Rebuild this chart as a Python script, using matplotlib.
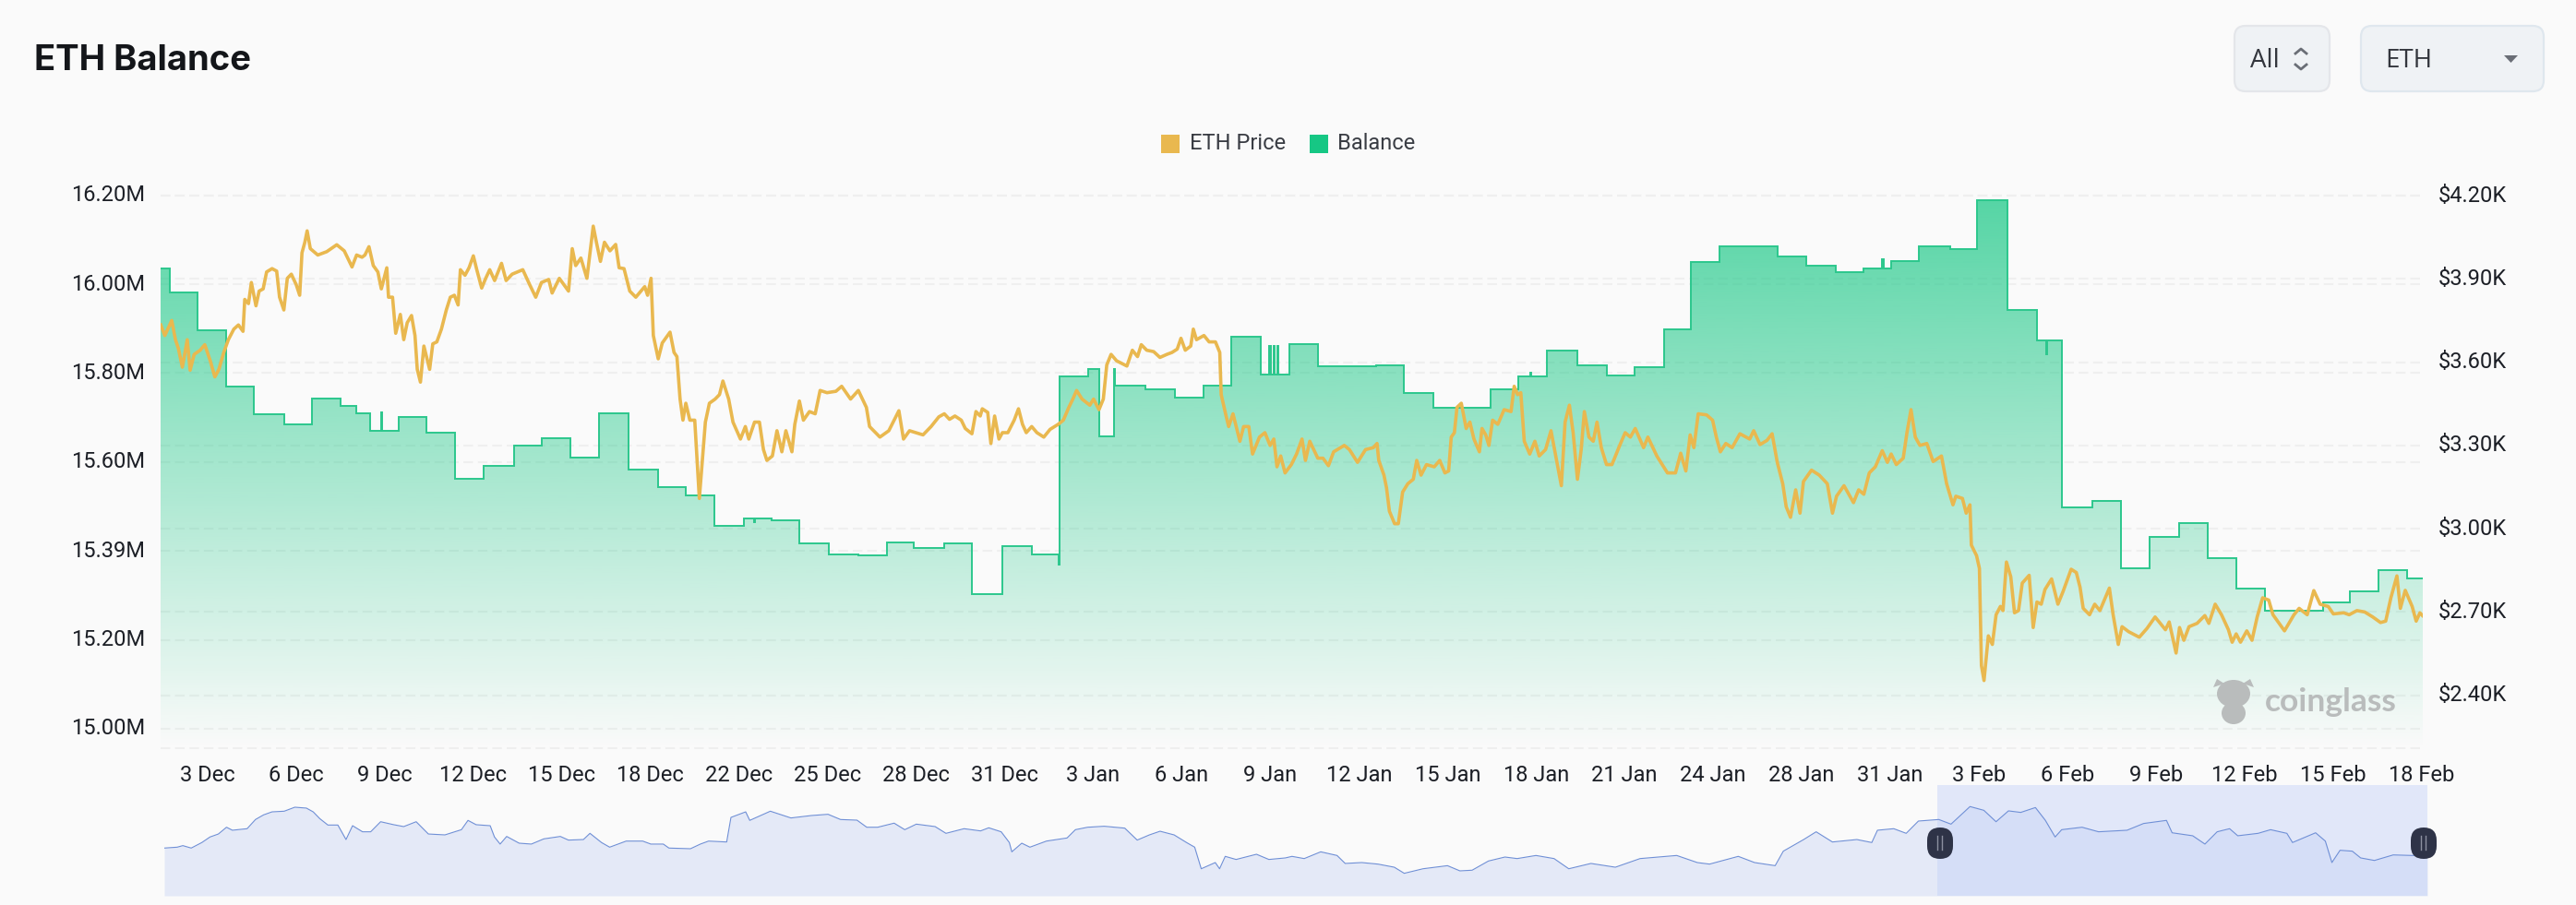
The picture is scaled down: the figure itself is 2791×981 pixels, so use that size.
"""
ETH balance on exchanges against ETH price, with overview strip below.
"""
import numpy as np
import matplotlib
matplotlib.use('Agg')
import matplotlib.pyplot as plt
from matplotlib.patches import FancyBboxPatch, Ellipse, Polygon
from matplotlib.transforms import ScaledTranslation

W, H = 2791, 981

# x values are days counted from 3 Dec
date_labels = ['3 Dec', '6 Dec', '9 Dec', '12 Dec', '15 Dec', '18 Dec', '22 Dec', '25 Dec', '28 Dec', '31 Dec',
               '3 Jan', '6 Jan', '9 Jan', '12 Jan', '15 Jan', '18 Jan', '21 Jan', '24 Jan', '28 Jan', '31 Jan',
               '3 Feb', '6 Feb', '9 Feb', '12 Feb', '15 Feb', '18 Feb']
balance_ticks = [15.0, 15.2, 15.4, 15.6, 15.8, 16.0, 16.2]
balance_labels = ['15.00M', '15.20M', '15.39M', '15.60M', '15.80M', '16.00M', '16.20M']
price_ticks = [2400, 2700, 3000, 3300, 3600, 3900, 4200]
price_labels = ['$2.40K', '$2.70K', '$3.00K', '$3.30K', '$3.60K', '$3.90K', '$4.20K']

balance_day = [-1.63, -1.31, -0.34, 0.64, 1.62, 2.65, 3.63, 4.61, 5.18, 5.66, 6.04, 6.08, 6.64, 7.62, 8.60, 9.61,
               10.65, 11.63, 12.62, 13.62, 14.64, 15.65, 16.63, 17.61, 18.64, 19.0, 19.05, 19.60, 20.58, 21.60,
               22.63, 23.61, 24.57, 25.62, 26.58, 27.64, 28.66, 29.60, 29.63, 30.63, 31.02, 31.51, 31.57, 32.62,
               33.65, 34.65, 35.60, 36.62, 36.91, 36.99, 37.06, 37.12, 37.19, 37.24, 37.61, 38.63, 40.64, 41.61,
               42.63, 44.63, 45.59, 46.0, 46.04, 46.59, 47.64, 48.65, 49.63, 50.64, 51.60, 52.58, 54.59, 55.60,
               56.64, 57.60, 58.24, 58.28, 58.55, 59.52, 60.61, 61.52, 62.58, 63.62, 63.93, 63.98, 64.50, 65.54,
               66.54, 67.54, 68.55, 69.55, 70.55, 71.56, 73.56, 74.51, 75.51, 76.48, 77.03]
balance_m = [16.036, 15.982, 15.897, 15.770, 15.707, 15.685, 15.743, 15.726, 15.709, 15.670, 15.711, 15.670, 15.701,
             15.667, 15.562, 15.592, 15.637, 15.653, 15.611, 15.710, 15.583, 15.543, 15.525, 15.456, 15.474, 15.465,
             15.474, 15.469, 15.417, 15.392, 15.390, 15.418, 15.406, 15.417, 15.302, 15.411, 15.393, 15.370, 15.792,
             15.810, 15.657, 15.810, 15.771, 15.764, 15.744, 15.772, 15.882, 15.796, 15.862, 15.796, 15.862, 15.796,
             15.862, 15.796, 15.865, 15.815, 15.817, 15.756, 15.723, 15.764, 15.792, 15.801, 15.792, 15.850, 15.817,
             15.794, 15.813, 15.898, 16.051, 16.086, 16.062, 16.041, 16.028, 16.036, 16.057, 16.036, 16.052, 16.085,
             16.080, 16.189, 15.943, 15.873, 15.843, 15.873, 15.497, 15.513, 15.361, 15.432, 15.463, 15.383, 15.316,
             15.265, 15.284, 15.310, 15.357, 15.339, 15.339]

price_day = [-1.63, -1.49, -1.35, -1.25, -1.12, -1.02, -0.88, -0.71, -0.61, -0.47, -0.26, -0.10, 0.09, 0.25, 0.39,
             0.56, 0.72, 0.91, 1.07, 1.23, 1.29, 1.42, 1.52, 1.68, 1.79, 1.93, 2.05, 2.24, 2.40, 2.50, 2.65, 2.77,
             2.91, 3.08, 3.20, 3.28, 3.38, 3.46, 3.57, 3.83, 4.14, 4.49, 4.75, 5.02, 5.18, 5.37, 5.47, 5.61, 5.76,
             5.92, 6.04, 6.23, 6.29, 6.43, 6.54, 6.70, 6.82, 6.94, 7.09, 7.21, 7.29, 7.40, 7.52, 7.72, 7.83, 7.97,
             8.13, 8.30, 8.44, 8.58, 8.71, 8.79, 8.95, 9.09, 9.24, 9.36, 9.53, 9.67, 9.81, 9.98, 10.22, 10.38, 10.59,
             10.96, 11.20, 11.41, 11.61, 11.86, 11.98, 12.23, 12.55, 12.68, 12.80, 12.98, 13.19, 13.41, 13.52, 13.66,
             13.80, 13.99, 14.19, 14.31, 14.48, 14.68, 14.89, 15.20, 15.30, 15.42, 15.50, 15.67, 15.81, 16.08, 16.22,
             16.32, 16.43, 16.53, 16.63, 16.77, 16.94, 17.10, 17.31, 17.45, 17.65, 17.80, 17.92, 18.12, 18.27, 18.53,
             18.70, 18.82, 19.02, 19.19, 19.33, 19.45, 19.64, 19.80, 19.97, 20.11, 20.32, 20.42, 20.58, 20.72, 20.93,
             21.13, 21.30, 21.54, 21.85, 22.05, 22.36, 22.63, 22.91, 23.02, 23.38, 23.69, 24.04, 24.20, 24.41,
             24.88, 25.16, 25.43, 25.62, 25.80, 25.99, 26.21, 26.35, 26.58, 26.72, 26.87, 26.94, 27.13, 27.24, 27.37,
             27.52, 27.64, 27.83, 28.05, 28.20, 28.34, 28.47, 28.66, 28.84, 29.08, 29.30, 29.58, 29.76, 29.95, 30.09,
             30.22, 30.41, 30.68, 30.81, 31.00, 31.15, 31.27, 31.42, 31.61, 31.97, 32.16, 32.34, 32.47, 32.66, 32.90,
             33.12, 33.36, 33.54, 33.72, 33.85, 34.00, 34.19, 34.28, 34.39, 34.65, 34.83, 35.05, 35.20, 35.25, 35.42,
             35.51, 35.66, 35.90, 36.03, 36.21, 36.34, 36.58, 36.77, 36.95, 37.08, 37.19, 37.32, 37.47, 37.69, 37.87,
             38.06, 38.18, 38.33, 38.61, 38.79, 38.98, 39.16, 39.53, 39.71, 39.99, 40.27, 40.54, 40.67, 40.73, 40.91,
             41.00, 41.10, 41.28, 41.41, 41.56, 41.74, 41.93, 42.05, 42.20, 42.39, 42.66, 42.85, 43.03, 43.16, 43.25,
             43.36, 43.45, 43.60, 43.77, 43.90, 44.04, 44.23, 44.32, 44.45, 44.56, 44.69, 44.87, 45.09, 45.33, 45.44,
             45.56, 45.67, 45.79, 45.98, 46.16, 46.31, 46.53, 46.72, 46.90, 47.08, 47.21, 47.36, 47.49, 47.64, 47.77,
             47.88, 48.04, 48.19, 48.32, 48.47, 48.65, 48.84, 49.11, 49.30, 49.48, 49.65, 49.94, 50.09, 50.40, 50.77,
             51.05, 51.23, 51.41, 51.56, 51.69, 51.84, 52.13, 52.34, 52.47, 52.61, 52.80, 53.02, 53.29, 53.63,
             53.77, 53.99, 54.23, 54.41, 54.59, 54.78, 54.90, 55.05, 55.23, 55.38, 55.50, 55.78, 56.05, 56.33, 56.51,
             56.65, 56.91, 57.24, 57.42, 57.60, 57.79, 58.00, 58.24, 58.42, 58.55, 58.73, 58.97, 59.10, 59.24, 59.39,
             59.55, 59.79, 60.01, 60.30, 60.48, 60.70, 60.80, 61.03, 61.16, 61.29, 61.34, 61.52, 61.62, 61.69, 61.78,
             61.93, 62.07, 62.20, 62.35, 62.44, 62.56, 62.71, 62.84, 62.98, 63.11, 63.35, 63.49, 63.62, 63.77, 63.90,
             64.13, 64.35, 64.53, 64.81, 64.99, 65.12, 65.23, 65.45, 65.63, 65.81, 66.14, 66.27, 66.45, 66.58, 66.81,
             67.18, 67.45, 67.73, 68.09, 68.22, 68.46, 68.58, 68.73, 68.91, 69.19, 69.46, 69.60, 69.82, 70.04, 70.28,
             70.41, 70.55, 70.70, 70.92, 71.10, 71.28, 71.47, 71.68, 71.83, 72.23, 72.56, 72.74, 73.02, 73.25, 73.47,
             73.75, 73.93, 74.29, 74.48, 74.75, 75.02, 75.30, 75.57, 75.75, 75.93, 76.14, 76.26, 76.43, 76.67, 76.81,
             76.94, 77.03]
price_usd = [3734, 3696, 3727, 3750, 3681, 3650, 3582, 3681, 3571, 3628, 3643, 3663, 3605, 3547, 3574,
             3635, 3681, 3719, 3734, 3711, 3826, 3811, 3887, 3803, 3856, 3864, 3925, 3937, 3928, 3834, 3788, 3902,
             3917, 3879, 3841, 3994, 4032, 4073, 4009, 3986, 3998, 4023, 4001, 3943, 3986, 3978, 3986, 4016, 3948,
             3925, 3864, 3940, 3834, 3834, 3704, 3772, 3681, 3742, 3768, 3696, 3574, 3528, 3658, 3574, 3666, 3673,
             3719, 3788, 3834, 3841, 3806, 3933, 3913, 3940, 3983, 3933, 3867, 3902, 3933, 3894, 3956, 3894, 3917,
             3933, 3879, 3834, 3887, 3898, 3849, 3902, 3856, 4009, 3948, 3975, 3902, 4090, 4032, 3963,
             4032, 4001, 4024, 3940, 3937, 3856, 3834, 3872, 3841, 3902, 3696, 3612, 3669, 3708, 3635,
             3620, 3467, 3391, 3452, 3391, 3391, 3109, 3384, 3452, 3467, 3483, 3532, 3467, 3384, 3323,
             3368, 3323, 3384, 3384, 3285, 3246, 3262, 3353, 3277, 3353, 3277, 3376, 3460, 3391, 3422,
             3414, 3498, 3490, 3495, 3513, 3467, 3498, 3437, 3368, 3330, 3353, 3425, 3323, 3353,
             3338, 3368, 3403, 3414, 3394, 3406, 3391, 3361, 3342, 3422, 3406, 3432, 3419, 3307, 3406,
             3323, 3346, 3346, 3391, 3432, 3376, 3346, 3368, 3346, 3330, 3358, 3376, 3391, 3437, 3467,
             3498, 3467, 3445, 3467, 3429, 3467, 3590, 3628, 3605, 3586, 3643, 3620, 3663, 3643, 3638,
             3617, 3628, 3635, 3647, 3686, 3643, 3658, 3719, 3681, 3696, 3673, 3673, 3635, 3483, 3406,
             3368, 3414, 3315, 3368, 3368, 3269, 3330, 3346, 3300, 3323, 3223, 3262, 3201, 3231, 3269,
             3323, 3246, 3315, 3254, 3254, 3227, 3277, 3300, 3285, 3239, 3285, 3292, 3307, 3246, 3193,
             3147, 3063, 3018, 3018, 3132, 3162, 3178, 3246, 3193, 3231, 3223, 3246, 3201, 3208, 3330,
             3346, 3437, 3452, 3361, 3384, 3323, 3277, 3361, 3338, 3300, 3391, 3376, 3429, 3422, 3513,
             3483, 3490, 3315, 3269, 3315, 3262, 3285, 3353, 3254, 3155, 3384, 3445, 3346, 3178, 3285,
             3422, 3330, 3315, 3384, 3292, 3231, 3231, 3300, 3346, 3330, 3361, 3292, 3330, 3262, 3201,
             3201, 3272, 3208, 3338, 3292, 3414, 3410, 3391, 3330, 3277, 3307, 3292, 3342, 3323,
             3353, 3303, 3318, 3342, 3239, 3162, 3079, 3041, 3140, 3056, 3170, 3211, 3193, 3162, 3056,
             3117, 3155, 3094, 3140, 3124, 3201, 3223, 3281, 3239, 3269, 3231, 3254, 3346, 3429, 3330,
             3300, 3307, 3242, 3262, 3162, 3086, 3117, 3109, 3056, 3086, 2941, 2903, 2857, 2507, 2453,
             2614, 2583, 2690, 2720, 2705, 2880, 2827, 2697, 2705, 2804, 2832, 2644, 2736, 2728, 2781,
             2819, 2728, 2774, 2854, 2842, 2789, 2713, 2690, 2728, 2705, 2786, 2690, 2583, 2647, 2629,
             2609, 2641, 2682, 2636, 2664, 2552, 2644, 2598, 2647, 2659, 2687, 2659, 2728, 2690, 2636,
             2591, 2621, 2591, 2632, 2598, 2682, 2751, 2743, 2690, 2632, 2690, 2713, 2690, 2777, 2728,
             2720, 2693, 2697, 2690, 2705, 2700, 2682, 2662, 2667, 2751, 2830, 2713, 2778, 2720, 2667,
             2697, 2687]

# overview strip: all-time history, percent of strip width and height
overview_x = [0.0, 0.57, 0.82, 1.19, 1.66, 2.02, 2.39, 2.75, 3.01, 3.66, 4.03, 4.39, 4.76, 5.30, 5.77, 6.28, 6.58,
              6.87, 7.23, 7.67, 8.03, 8.32, 8.76, 9.12, 9.56, 10.14, 10.58, 11.13, 11.67, 12.40, 13.13, 13.42, 13.78,
              14.40, 14.59, 14.84, 15.13, 15.68, 16.22, 16.77, 17.50, 17.86, 18.52, 18.81, 19.32, 19.68, 20.41, 21.14,
              21.50, 22.05, 22.30, 23.25, 23.69, 24.05, 24.85, 25.04, 25.69, 25.87, 26.78, 27.69, 28.60, 29.33, 29.88,
              30.61, 31.04, 31.52, 32.25, 32.72, 33.23, 34.06, 34.54, 35.34, 36.07, 36.43, 36.98, 37.34, 37.45, 37.89,
              38.25, 38.98, 39.89, 40.26, 40.80, 41.53, 42.44, 42.99, 43.53, 44.00, 44.62, 45.17, 45.53, 45.82, 46.44,
              46.63, 46.88, 47.36, 48.26, 48.81, 49.54, 49.83, 50.37, 51.10, 51.82, 52.18, 52.91, 53.63, 54.35, 54.79,
              55.62, 56.70, 57.25, 57.79, 58.51, 59.24, 59.78, 60.61, 61.41, 62.06, 63.04, 64.12, 65.21, 66.83, 67.74,
              68.28, 69.55, 70.27, 71.18, 71.54, 72.44, 72.99, 73.71, 74.79, 75.45, 75.70, 76.42, 76.97, 77.51, 78.41,
              78.95, 79.79, 80.40, 80.94, 81.49, 82.03, 82.68, 83.12, 83.55, 83.84, 84.74, 85.47, 86.73, 87.46, 88.47,
              88.72, 89.63, 90.17, 90.71, 91.26, 91.62, 92.52, 93.07, 93.79, 94.04, 95.06, 95.49, 95.78, 96.14, 96.68,
              97.05, 97.66, 98.49, 99.32, 100.0]
overview_y = [43.1, 43.9, 45.3, 43.1, 48.1, 53.1, 55.8, 61.9, 59.2, 60.6, 68.9, 73.1, 75.8, 76.4, 80.0, 79.2, 75.8,
              69.7, 63.9, 63.9, 50.8, 63.3, 57.8, 57.8, 66.9, 64.2, 62.5, 66.9, 55.8, 55.0, 59.7, 68.1, 64.2,
              63.3, 53.1, 46.7, 53.6, 47.5, 46.7, 51.4, 53.6, 50.3, 50.8, 56.4, 48.1, 43.9, 49.4, 49.4,
              46.7, 46.7, 43.1, 42.5, 46.7, 49.4, 48.6, 70.8, 75.8, 68.1, 76.4, 70.3, 72.5, 73.6, 68.9,
              68.3, 61.9, 61.9, 65.6, 59.7, 64.7, 62.5, 56.4, 60.6, 58.6, 61.4, 57.8, 48.1, 39.7, 47.5,
              43.9, 49.4, 52.2, 59.7, 61.9, 62.8, 61.1, 50.3, 55.0, 58.3, 55.0, 48.1, 43.9, 24.4, 30.0,
              24.4, 35.6, 32.8, 37.5, 32.8, 34.2, 35.6, 33.6, 39.7, 36.4, 29.2, 30.0, 28.6, 25.8, 20.3,
              24.4, 27.2, 22.5, 23.1, 31.4, 35.0, 33.6, 36.4, 33.6, 24.4, 29.2, 25.8, 33.6, 36.4, 30.0,
              28.6, 35.6, 30.0, 27.2, 40.3, 50.8, 57.8, 48.6, 50.8, 48.1, 59.2, 60.6, 56.4, 67.5, 68.9,
              64.7, 80.6, 77.2, 66.9, 76.7, 75.3, 79.7, 68.1, 53.1, 59.7, 61.9, 57.8, 59.2, 65.3, 68.1,
              56.9, 54.2, 46.7, 57.8, 60.6, 54.2, 56.4, 59.7, 56.4, 48.1, 56.9, 49.4, 30.0, 41.1, 40.3,
              34.2, 31.9, 36.9, 36.4, 36.4]
window_start = 78.34
window_end = 100.0

BG = '#fafafa'
PRICE_COLOR = '#e9b84f'
BALANCE_COLOR = '#16c784'
GRID_COLOR = '#efefef'
TEXT_COLOR = '#1c1f26'
plt.rcParams['font.family'] = ['Roboto', 'DejaVu Sans']


def px_axes(fig, left, top, right, bottom):
    return fig.add_axes([left / W, 1 - bottom / H, (right - left) / W, (bottom - top) / H])


fig = plt.figure(figsize=(W / 100, H / 100), dpi=100, facecolor=BG)

# main chart
ax = px_axes(fig, 173.5, 200, 2625, 812)
ax.set_facecolor('none')
x_lo, x_hi = -1.653, 77.04
y_lo, y_hi = 14.954, 16.2245
ax.set_xlim(x_lo, x_hi)
ax.set_ylim(y_lo, y_hi)

for tick in balance_ticks:
    ax.axhline(tick, color=GRID_COLOR, lw=1.5, dashes=(5, 2.5), zorder=1)
ax.axhline(y_lo + 0.002, color=GRID_COLOR, lw=1.5, dashes=(5, 2.5), zorder=1)

ax2 = ax.twinx()
ax2.set_facecolor('none')
ax2.set_ylim(2206, 4240)
for tick in price_ticks:
    ax.axhline(y_lo + (tick - 2206) / (4240 - 2206) * (y_hi - y_lo), color=GRID_COLOR, lw=1.5, dashes=(5, 2.5), zorder=1)

# green area fades out towards the bottom
fade = np.zeros((256, 1, 4))
fade[..., 0] = 22 / 255
fade[..., 1] = 199 / 255
fade[..., 2] = 132 / 255
fade[..., 3] = np.linspace(0.72, 0.0, 256)[:, None]
area = ax.fill_between(balance_day, balance_m, y_lo, step='post', color='none', lw=0)
img = ax.imshow(fade, extent=(x_lo, x_hi, y_lo, 16.189), origin='upper', aspect='auto', zorder=2)
img.set_clip_path(area.get_paths()[0], transform=ax.transData)
ax.set_xlim(x_lo, x_hi)
ax.set_ylim(y_lo, y_hi)
ax.step(balance_day, balance_m, where='post', color='#2cc78d', lw=1.4, zorder=3, solid_joinstyle='miter')

ax2.plot(price_day, price_usd, color=PRICE_COLOR, lw=2.6, zorder=5, solid_joinstyle='round')

ax.set_xticks(np.arange(len(date_labels)) * 77 / 25)
ax.set_xticklabels(date_labels, fontsize=17, color=TEXT_COLOR)
ax.set_yticks(balance_ticks)
ax.set_yticklabels(balance_labels, fontsize=17, color=TEXT_COLOR)
ax2.set_yticks(price_ticks)
ax2.set_yticklabels(price_labels, fontsize=17, color=TEXT_COLOR)
ax.tick_params(axis='x', length=0, pad=12)
ax.tick_params(axis='y', length=0, pad=12)
ax2.tick_params(axis='y', length=0, pad=12)
for a in (ax, ax2):
    for side in a.spines.values():
        side.set_visible(False)

# the value labels sit a little above their grid lines
nudge = ScaledTranslation(0, 2.5 / 100, fig.dpi_scale_trans)
for label in ax.get_yticklabels() + ax2.get_yticklabels():
    label.set_transform(label.get_transform() + nudge)

# overview strip
mini = px_axes(fig, 178, 851, 2630, 971)
mini.set_facecolor('none')
mini.fill_between(overview_x, overview_y, 0, color='#e4e9f7', lw=0)
mini.plot(overview_x, overview_y, color='#6f8fd6', lw=0.8)
mini.axvspan(window_start, window_end, color='#c3d2f8', alpha=0.45, lw=0)
mini.set_xlim(0, 100)
mini.set_ylim(0, 100)
mini.axis('off')

# page furniture, drawn in pixel coordinates
ui = fig.add_axes([0, 0, 1, 1], zorder=10)
ui.set_xlim(0, W)
ui.set_ylim(H, 0)
ui.axis('off')
ui.patch.set_alpha(0)

ui.text(37, 66, 'ETH Balance', fontsize=27.5, fontweight='bold', family='Inter', color='#14161a', va='center', ha='left')

# legend
ui.add_patch(plt.Rectangle((1258, 146), 20, 20, color=PRICE_COLOR, lw=0))
ui.text(1289, 155, 'ETH Price', fontsize=17, color='#3a3d44', va='center', ha='left')
ui.add_patch(plt.Rectangle((1419, 146), 20, 20, color=BALANCE_COLOR, lw=0))
ui.text(1449, 155, 'Balance', fontsize=17, color='#3a3d44', va='center', ha='left')

# selectors
for left, right, edge in ((2421, 2524, '#e4e6ea'), (2558, 2756, '#dfe7ee')):
    ui.add_patch(FancyBboxPatch((left + 10, 38), right - left - 20, 51, boxstyle='round,pad=10,rounding_size=12',
                                fc='#eff2f5', ec=edge, lw=1.6))
ui.text(2438, 66, 'All', fontsize=20, family='Open Sans', color='#33363d', va='center', ha='left')
ui.text(2584, 66, 'ETH', fontsize=20, family='Open Sans', color='#33363d', va='center', ha='left')
ui.plot([2487, 2493, 2499], [58, 53, 58], color='#6a6e76', lw=2)
ui.plot([2487, 2493, 2499], [70, 75, 70], color='#6a6e76', lw=2)
ui.add_patch(Polygon([[2713, 60], [2728, 60], [2720.5, 68]], fc='#6a6e76', lw=0))

# overview handles
for cx in (2102, 2626):
    ui.add_patch(FancyBboxPatch((cx - 6, 905), 12, 18, boxstyle='round,pad=8,rounding_size=14', fc='#2e3347', ec='none'))
    ui.plot([cx - 2.5, cx - 2.5], [906, 921], color='#8c90a0', lw=1)
    ui.plot([cx + 2.5, cx + 2.5], [906, 921], color='#8c90a0', lw=1)

# watermark
mark = '#b9bcbc'
ui.add_patch(Ellipse((2420, 752), 36, 30, fc=mark, lw=0))
ui.add_patch(Ellipse((2420, 773), 26, 24, fc=mark, lw=0))
ui.add_patch(Polygon([[2398, 745], [2402, 736], [2410, 741]], fc=mark, lw=0))
ui.add_patch(Polygon([[2442, 745], [2438, 736], [2430, 741]], fc=mark, lw=0))
ui.text(2454, 761, 'coinglass', fontsize=25.5, fontweight='bold', family='Lato', color=mark, va='center', ha='left')

fig.savefig('out.png', dpi=100, facecolor=BG)
